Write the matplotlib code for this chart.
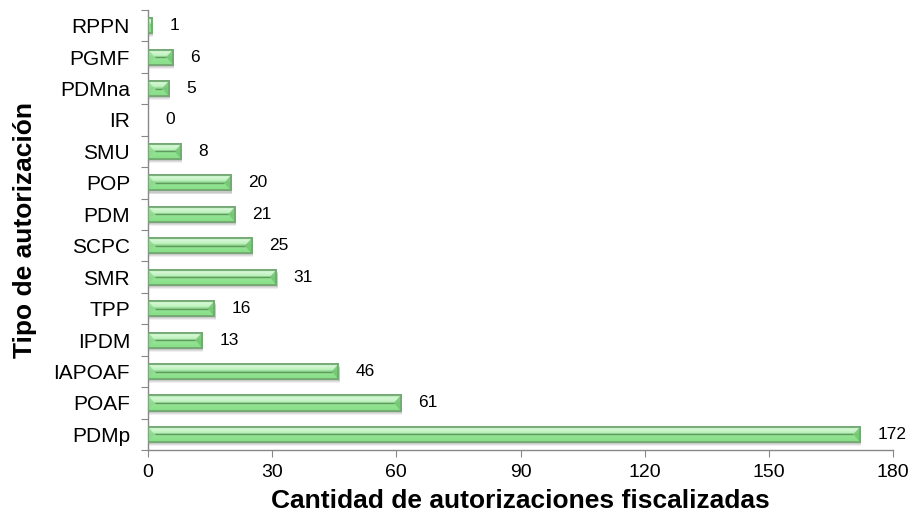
import matplotlib
matplotlib.use("Agg")
import matplotlib.pyplot as plt
import numpy as np
from matplotlib.colors import LinearSegmentedColormap
from matplotlib.patches import Polygon, Rectangle

categories = ["PDMp", "POAF", "IAPOAF", "IPDM", "TPP", "SMR", "SCPC", "PDM",
              "POP", "SMU", "IR", "PDMna", "PGMF", "RPPN"]
values = [172, 61, 46, 13, 16, 31, 25, 21, 20, 8, 0, 5, 6, 1]

plt.rcParams['font.family'] = ['Liberation Sans', 'DejaVu Sans']

fig = plt.figure(figsize=(9.14, 5.21), dpi=100)
ax = fig.add_axes([0.162, 0.136, 0.815, 0.845])

y = np.arange(len(categories))
h = 0.48
edge = '#74a874'

# soft shadow
for k, a in [(0.13, 0.10), (0.10, 0.14), (0.07, 0.18)]:
    ax.barh(y - k, values, height=h, left=0.3, color='#707070', alpha=a,
            linewidth=0, zorder=1)

bars = ax.barh(y, values, height=h, color='#9fe79f', edgecolor=edge,
               linewidth=1.2, zorder=2)

grad = np.linspace(0, 1, 200).reshape(-1, 1)
cmap = LinearSegmentedColormap.from_list(
    'g', [(0.0, '#86df86'), (0.45, '#95e595'), (0.5, '#7fc47f'),
          (0.55, '#b5efb5'), (0.8, '#d6f7d6'), (1.0, '#a6e8a6')])
d = 1.6
for b in bars:
    x0, y0 = b.get_x(), b.get_y()
    w, hh = b.get_width(), b.get_height()
    if w <= 0:
        continue
    im = ax.imshow(grad, extent=[x0, x0 + w, y0, y0 + hh], aspect='auto',
                   cmap=cmap, origin='lower', zorder=2.5, interpolation='bilinear')
    im.set_clip_path(b)
    yc = y0 + hh / 2
    dd = min(d, w / 2)
    ax.add_patch(Polygon([(x0 + w, y0), (x0 + w - dd, yc), (x0 + w, y0 + hh)],
                         closed=True, facecolor='#6fc46f', edgecolor='none',
                         alpha=0.8, zorder=2.8))
    ax.add_patch(Polygon([(x0, y0), (x0 + dd, yc), (x0, y0 + hh)],
                         closed=True, facecolor='#8fd88f', edgecolor='none',
                         alpha=0.8, zorder=2.8))
    ax.plot([x0 + dd, x0 + w - dd], [yc, yc], color='#5f9a5f', lw=1.0,
            zorder=3, solid_capstyle='butt')
    ax.add_patch(Rectangle((x0, y0), w, hh, fill=False, edgecolor=edge,
                           lw=1.3, zorder=3.5))

for yi, v in zip(y, values):
    ax.annotate(str(v), xy=(v, yi), xytext=(12.5, 0), textcoords='offset points',
                va='center', ha='left', fontsize=12.5, color='black')

ax.set_xlim(0, 180)
ax.set_ylim(-0.5, len(categories) - 0.5)
ax.set_xticks([0, 30, 60, 90, 120, 150, 180])
ax.set_yticks(np.arange(len(categories) + 1) - 0.5, minor=False)
ax.set_yticklabels([])
ax.set_yticks(y, minor=True)
ax.set_yticklabels(categories, minor=True)
ax.tick_params(axis='y', which='minor', length=0, labelsize=15, pad=13)
ax.tick_params(axis='y', which='major', length=5, color='#888888', direction='out')
ax.tick_params(axis='x', labelsize=14, color='#888888', length=5,
               direction='out', pad=5)
for s in ['top', 'right']:
    ax.spines[s].set_visible(False)
for s in ['left', 'bottom']:
    ax.spines[s].set_color('#888888')
    ax.spines[s].set_linewidth(1.0)

ax.set_xlabel('Cantidad de autorizaciones fiscalizadas', fontsize=19,
              fontweight='bold', labelpad=6)
ax.set_ylabel('Tipo de autorización', fontsize=19, fontweight='bold',
              labelpad=12)

fig.savefig('out.png', dpi=100)
